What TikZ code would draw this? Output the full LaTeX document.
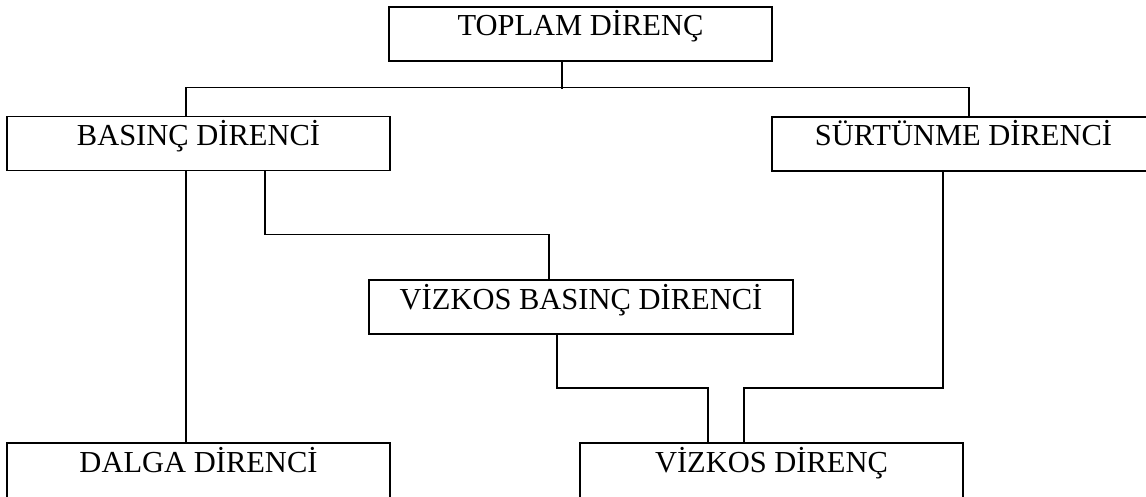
\documentclass[tikz,border=0pt]{standalone}
\usepackage{fontspec}
\setmainfont{Liberation Serif}
\begin{document}
\begin{tikzpicture}[x=1pt,y=-1pt,
  kutu/.style={draw,line width=1.8pt,inner sep=0pt,minimum width=383pt,
    text height=29pt,text depth=25pt,font=\fontsize{30.5}{36}\selectfont},
  alt/.style={text depth=27pt},
  hat/.style={line width=1.2pt}]
\useasboundingbox (0,0) rectangle (1146,497);
\clip (0,0) rectangle (1146,497);
\node[kutu] (toplam) at (580.5,34) {TOPLAM DİRENÇ};
\node[kutu] (basinc) at (198.5,143.5) {BASINÇ DİRENCİ};
\node[kutu] (surt) at (963.5,144) {SÜRTÜNME DİRENCİ};
\node[kutu,minimum width=424pt] (vbasinc) at (581,307) {VİZKOS BASINÇ DİRENCİ};
\node[kutu,alt] (dalga) at (198.5,471) {DALGA DİRENCİ};
\node[kutu,alt] (vdirenc) at (771.5,471) {VİZKOS DİRENÇ};
\draw[hat] ([xshift=-18.5pt]toplam.south) -- ++(0,27);
\draw[hat] ([xshift=-12.5pt]basinc.north) -- ++(0,-28) -| ([xshift=5.5pt]surt.north);
\draw[hat] ([xshift=-12.5pt]basinc.south) -- ([xshift=-12.5pt]dalga.north);
\draw[hat] ([xshift=66.5pt]basinc.south) -- ++(0,63) -| ([xshift=-32pt]vbasinc.north);
\draw[hat] ([xshift=-24pt]vbasinc.south) -- ++(0,53) -| ([xshift=-63.5pt]vdirenc.north);
\draw[hat] ([xshift=-20.5pt]surt.south) -- ++(0,216) -| ([xshift=-27.5pt]vdirenc.north);
\end{tikzpicture}
\end{document}
